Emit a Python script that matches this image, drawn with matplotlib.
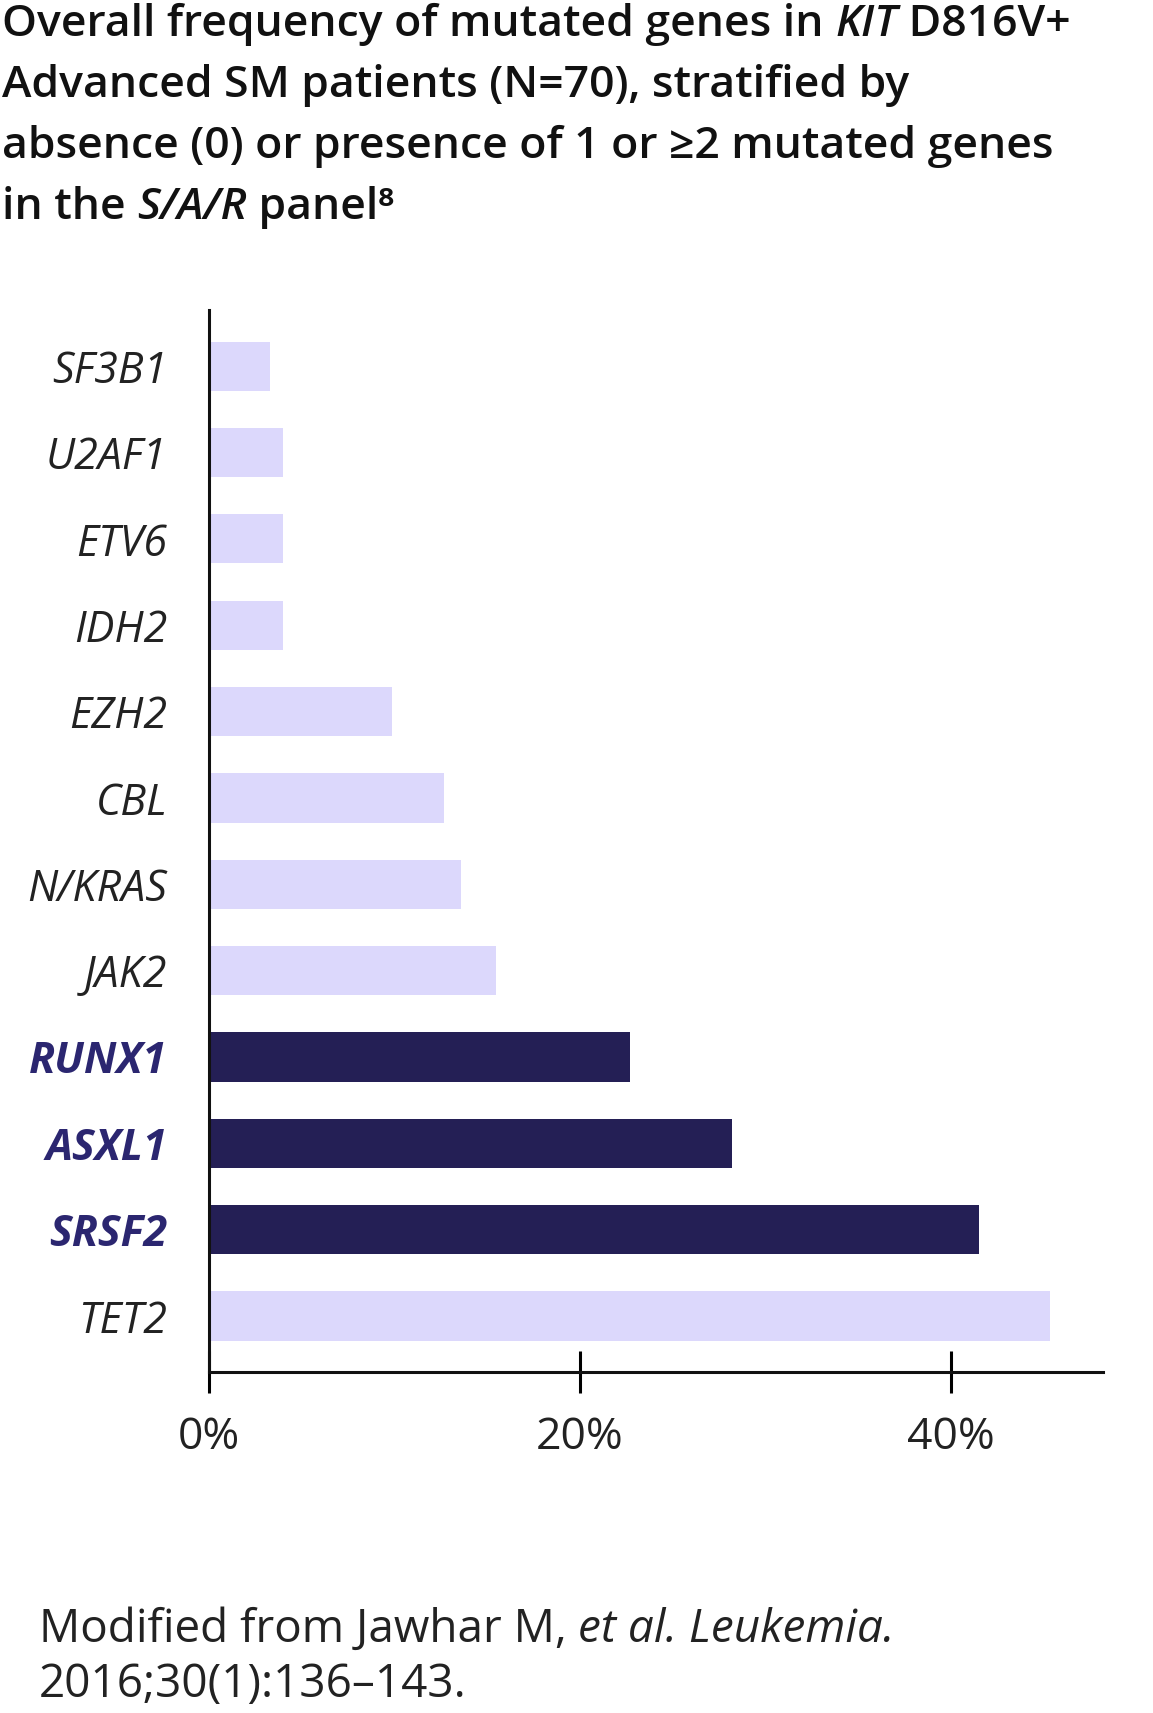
import matplotlib
matplotlib.use("Agg")
import matplotlib.pyplot as plt

genes = ["TET2", "SRSF2", "ASXL1", "RUNX1", "JAK2", "N/KRAS", "CBL", "EZH2", "IDH2", "ETV6", "U2AF1", "SF3B1"]
values = [45.3, 41.5, 28.2, 22.7, 15.5, 13.6, 12.7, 9.9, 4.0, 4.0, 4.0, 3.3]
highlight = ["SRSF2", "ASXL1", "RUNX1"]
xticks = [0, 20, 40]
xticklabels = ["0%", "20%", "40%"]

LIGHT = "#dcd8fc"
DARK = "#241f55"
LABEL_DARK = "#2b2670"
FONT = "Open Sans"
plt.rcParams['font.family'] = [FONT, 'DejaVu Sans']

fig = plt.figure(figsize=(11.53, 17.13), dpi=100)
ax = fig.add_axes([0.181, 0.199, 0.776, 0.620])
ypos = list(range(len(genes)))
colors = [DARK if g in highlight else LIGHT for g in genes]
ax.barh(ypos, values, height=0.57, color=colors, zorder=2)
ax.set_xlim(0, 48.2)
ax.set_ylim(-0.65, len(genes) - 0.35)
for s in ["top", "right"]:
    ax.spines[s].set_visible(False)
for s in ["left", "bottom"]:
    ax.spines[s].set_linewidth(2.2)
    ax.spines[s].set_color("#111111")
ax.set_yticks(ypos)
ax.set_yticklabels(genes)
ax.tick_params(axis="y", length=0, pad=30)
for lab, g in zip(ax.get_yticklabels(), genes):
    lab.set_fontsize(31)
    lab.set_style("italic")
    if g in highlight:
        lab.set_color(LABEL_DARK)
        lab.set_fontweight("bold")
    else:
        lab.set_color("#222222")
ax.set_xticks(xticks)
ax.set_xticklabels(xticklabels, fontsize=32, color="#222222")
ax.tick_params(axis="x", length=30, width=2.2, pad=16, direction="inout")

fig.canvas.draw()
r = fig.canvas.get_renderer()
W, H = fig.bbox.width, fig.bbox.height
lines = [
    [("Overall frequency of mutated genes in ", "normal"), ("KIT", "italic"), (" D816V+", "normal")],
    [("Advanced SM patients (N=70), stratified by", "normal")],
    [("absence (0) or presence of 1 or \u22652 mutated genes", "normal")],
    [("in the ", "normal"), ("S/A/R", "italic"), (" panel\u2078", "normal")],
]
y0 = 1 - 22 / 1545
dy = 55 / 1545
for i, line in enumerate(lines):
    x = 2 / 1040
    y = y0 - i * dy
    for txt, st in line:
        t = fig.text(x, y, txt, fontsize=32, fontweight="semibold", style=st,
                     color="#111111", va="center", ha="left")
        bb = t.get_window_extent(renderer=r)
        x += bb.width / W

t0 = fig.text(35 / 1040, 1 - 1470 / 1545, "Modified from Jawhar M, ", fontsize=33, color="#222222", va="center")
bb = t0.get_window_extent(renderer=r)
fig.text(35 / 1040 + bb.width / W, 1 - 1470 / 1545, "et al. Leukemia.", fontsize=33, style="italic", color="#222222", va="center")
fig.text(35 / 1040, 1 - 1520 / 1545, "2016;30(1):136\u2013143.", fontsize=33, color="#222222", va="center")

fig.savefig("out.png", dpi=100, facecolor="white")
